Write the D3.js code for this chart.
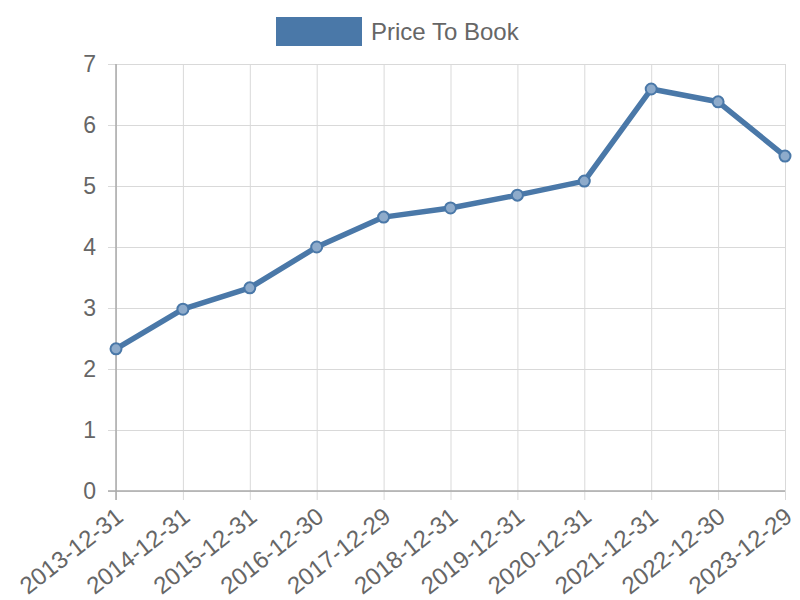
<!DOCTYPE html>
<meta charset="utf-8">
<head>
<script src="https://d3js.org/d3.v7.min.js"></script>
<style>
body { margin: 0; background: #fff; }
text { font-family: "Liberation Sans", Arial, sans-serif; fill: #666; }
</style>
</head>
<body>
<script>

// Data
var dates = ["2013-12-31", "2014-12-31", "2015-12-31", "2016-12-30", "2017-12-29", "2018-12-31",
             "2019-12-31", "2020-12-31", "2021-12-31", "2022-12-30", "2023-12-29"];
var priceToBook = [2.33, 2.98, 3.33, 4.0, 4.49, 4.64, 4.85, 5.08, 6.59, 6.38, 5.49];
var yTicks = [0, 1, 2, 3, 4, 5, 6, 7];
var seriesName = "Price To Book";

var margin = {top: 64, right: 15, bottom: 109, left: 116},
    width = 800 - margin.left - margin.right,
    height = 600 - margin.top - margin.bottom;

var color = "#4a78a8";

var svg = d3.select("body").append("svg")
    .attr("width", 800)
    .attr("height", 600);

var g = svg.append("g")
    .attr("transform", "translate(" + margin.left + "," + margin.top + ")");

var x = d3.scalePoint().domain(dates).range([0, width]);
var y = d3.scaleLinear().domain([0, 7]).range([height, 0]);

// horizontal grid
g.append("g")
    .call(d3.axisLeft(y).tickValues(yTicks).tickFormat(d3.format("d"))
      .tickSize(-width).tickPadding(20).tickSizeOuter(0))
    .call(function(a) {
      a.select(".domain").remove();
      a.selectAll(".tick line").attr("stroke", "#d9d9d9").attr("x1", -8);
      a.selectAll("text").style("font-size", "23px").attr("fill", "#666");
    });

// vertical grid
g.append("g")
    .attr("transform", "translate(0," + height + ")")
    .call(d3.axisBottom(x).tickSize(-height).tickPadding(0).tickSizeOuter(0))
    .call(function(a) {
      a.select(".domain").remove();
      a.selectAll(".tick line").attr("stroke", "#d9d9d9").attr("y1", 9);
      a.selectAll("text")
        .style("font-size", "24px")
        .attr("fill", "#666")
        .style("text-anchor", "end")
        .attr("dy", "0.35em")
        .attr("transform", "translate(3,22) rotate(-38)");
    });

// axis lines
g.append("line").attr("x1", 0).attr("x2", 0).attr("y1", 0).attr("y2", height + 9)
    .attr("stroke", "#aaa").attr("stroke-width", 1.5);
g.append("line").attr("x1", -8).attr("x2", width).attr("y1", height).attr("y2", height)
    .attr("stroke", "#aaa").attr("stroke-width", 1.5);

// line
var line = d3.line()
    .x(function(d, i) { return x(dates[i]); })
    .y(function(d) { return y(d); });

g.append("path")
    .datum(priceToBook)
    .attr("fill", "none")
    .attr("stroke", color)
    .attr("stroke-width", 5.5)
    .attr("stroke-linejoin", "round")
    .attr("d", line);

g.selectAll(".pt")
    .data(priceToBook)
    .enter().append("circle")
    .attr("class", "pt")
    .attr("cx", function(d, i) { return x(dates[i]); })
    .attr("cy", function(d) { return y(d); })
    .attr("r", 5.5)
    .attr("fill", "#8eabcb")
    .attr("stroke", color)
    .attr("stroke-width", 2);

// legend
var lg = svg.append("g").attr("transform", "translate(276,17)");
lg.append("rect").attr("width", 86).attr("height", 29).attr("fill", color);
lg.append("text").attr("x", 95).attr("y", 15).attr("dy", "0.35em")
    .style("font-size", "24px").attr("fill", "#666").text(seriesName);

</script>
</body>
